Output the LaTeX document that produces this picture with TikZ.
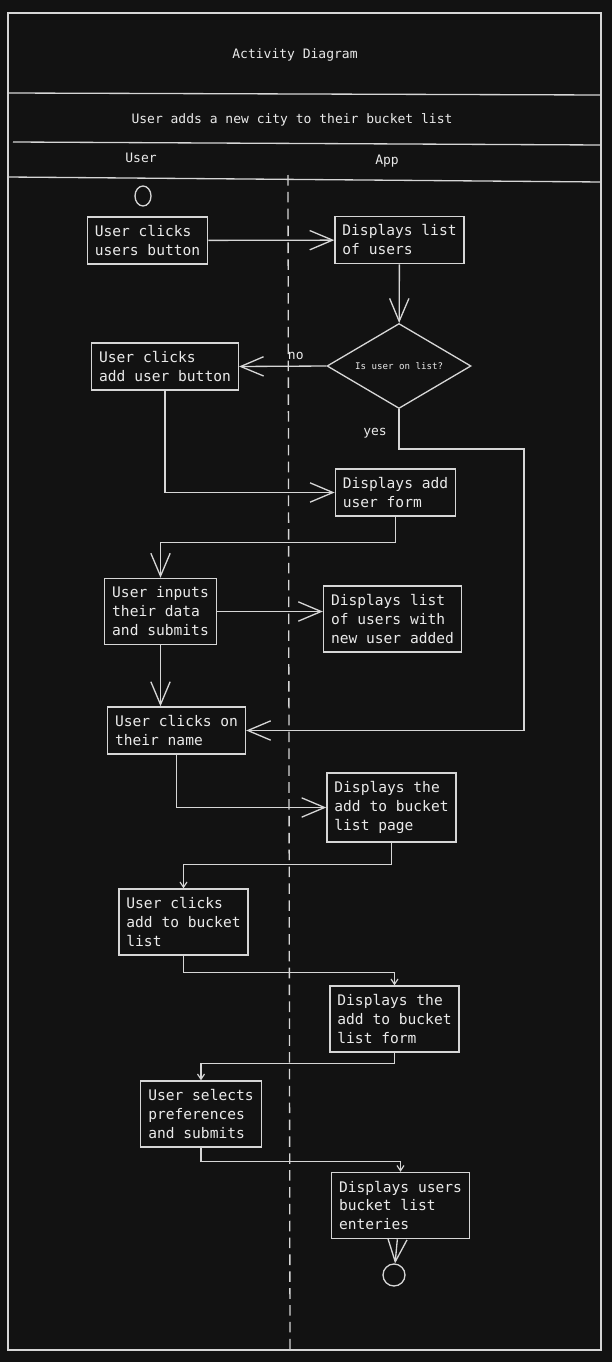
\documentclass[tikz,border=0pt]{standalone}
\usepackage{fontspec}
\setmainfont{DejaVu Sans Mono}
\usetikzlibrary{arrows.meta,shapes.geometric}
\definecolor{bgdark}{HTML}{121212}
\definecolor{inkline}{HTML}{D6D6D6}
\definecolor{inktext}{HTML}{EAEAEA}
\tikzset{
  act/.style={draw=inkline, text=inktext, align=left, inner xsep=4.3pt, inner ysep=4.8pt,
    font=\fontsize{8.3}{10.8}\selectfont, line width=0.75pt},
  flow/.style={draw=inkline, line width=0.75pt, -{Straight Barb[length=13pt,width=11pt]}},
  flowsmall/.style={draw=inkline, line width=0.65pt, -{Straight Barb[length=3pt,width=4pt]}},
  lane/.style={text=inktext, font=\fontsize{7.4}{9}\selectfont},
}

\begin{document}
\begin{tikzpicture}[x=0.02cm, y=-0.02cm]
  \fill[bgdark] (0,0) rectangle (612,1362);

  % swimlane frame
  \draw[inkline, line width=0.75pt] (8,13) rectangle (601,1350);
  \draw[inkline, line width=0.75pt] (8,93) -- (601,95) (13,142) -- (601,145) (8,177) -- (601,182);
  \draw[inkline, line width=0.75pt, dash pattern=on 6pt off 3.6pt] (288,175) -- (290,1350);
  \node[lane] at (295,55) {Activity Diagram};
  \node[lane] at (292,120) {User adds a new city to their bucket list};
  \node[lane] at (141,158) {User};
  \node[lane] at (387,161) {App};

  % activities
  \node[draw=inkline, ellipse, minimum width=0.32cm, minimum height=0.4cm, inner sep=0pt, line width=0.75pt] (start) at (143,196) {};
  \node[act] (clickUsers) at (147.5,240.5) {User clicks\\users button};
  \node[act] (listUsers) at (399.5,240) {Displays list\\of users};
  \node[draw=inkline, diamond, aspect=1.7, minimum width=2.88cm, minimum height=1.7cm, inner sep=0pt,
    line width=0.75pt, text=inktext, font=\fontsize{5.2}{6}\selectfont] (onList) at (399,366) {Is user on list?};
  \node[act] (clickAdd) at (165,366.5) {User clicks\\add user button};
  \node[act] (addForm) at (395.5,492.5) {Displays add\\user form};
  \node[act] (inputData) at (160.5,611.5) {User inputs\\their data\\and submits};
  \node[act] (listNew) at (392.5,619) {Displays list\\of users with\\new user added};
  \node[act] (clickName) at (176.5,730.5) {User clicks on\\their name};
  \node[act] (bucketPage) at (391.5,807.5) {Displays the\\add to bucket\\list page};
  \node[act] (clickBucket) at (183.5,922) {User clicks\\add to bucket\\list};
  \node[act] (bucketForm) at (394.5,1019) {Displays the\\add to bucket\\list form};
  \node[act] (selectPrefs) at (201,1114) {User selects\\preferences\\and submits};
  \node[act] (showBucket) at (400.5,1205.5) {Displays users\\bucket list\\enteries};
  \node[draw=inkline, circle, minimum size=0.44cm, inner sep=0pt, line width=0.75pt] (stop) at (394,1275) {};
  \coordinate (yesTurn) at (524,449);

  % flows
  \draw[flow] (clickUsers) -- (listUsers);
  \draw[flow] (listUsers) -- (onList);
  \draw[flow] (onList.west) -- (clickAdd.east) node[lane, pos=0.35, above] {no};
  \draw[flow] (onList.south) |- (yesTurn) |- (clickName.east);
  \node[lane] at (375,433) {yes};
  \draw[flow] (clickAdd.south) |- (addForm.west);
  \draw[flow] (addForm.south) -- ++(0,26) -| (inputData.north);
  \draw[flow] (inputData.east) -- (listNew.west |- inputData.east);
  \draw[flow] (inputData.south) -- (inputData.south |- clickName.north);
  \draw[flow] (clickName.south) |- (bucketPage.west);
  \draw[flowsmall] (bucketPage.south) -- ++(0,22) -| (clickBucket.north);
  \draw[flowsmall] (clickBucket.south) -- ++(0,17) -| (bucketForm.north);
  \draw[flowsmall] (bucketForm.south) -- ++(0,11) -| (selectPrefs.north);
  \draw[flowsmall] (selectPrefs.south) -- ++(0,14) -| (showBucket.north);
  \draw[flow] (showBucket) -- (stop);
\end{tikzpicture}
\end{document}
